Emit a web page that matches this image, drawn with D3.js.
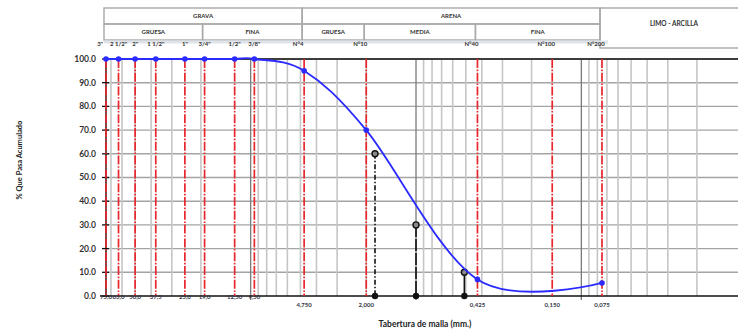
<!DOCTYPE html>
<html>
<head>
<meta charset="utf-8">
<script src="https://cdn.jsdelivr.net/npm/d3@7/dist/d3.min.js"></script>
<style>
  body { margin: 0; background: #fff; }
  text { font-family: Lato, "Open Sans", sans-serif; }
</style>
</head>
<body>
<div id="chart"></div>
<script>
// sieves (ASTM) and their openings in mm
var sieveNames = ['3"', '2 1/2"', '2"', '1 1/2"', '1"', '3/4"', '1/2"', '3/8"', 'N°4', 'N°10', 'N°40', 'N°100', 'N°200'];
var sieveSizes = [75, 63, 50, 37.5, 25, 19, 12.5, 9.5, 4.75, 2.0, 0.425, 0.15, 0.075];
var sizeLabels = ['75,0', '63,0', '50,0', '37,5', '25,0', '19,0', '12,50', '9,50', '4,750', '2,000', '0,425', '0,150', '0,075'];

// granulometric curve (% passing)
var pointSizes = [75, 63, 50, 37.5, 25, 19, 12.5, 9.5, 4.75, 2.0, 0.425, 0.075];
var pointPassing = [100, 100, 100, 100, 100, 100, 100, 100, 95, 70, 7, 5.5];

// D60, D30, D10
var dSizes = [1.77, 1.0, 0.51];
var dPassing = [60, 30, 10];

var yTicks = [0, 10, 20, 30, 40, 50, 60, 70, 80, 90, 100];
var gridMinor = [70, 60, 50, 40, 30, 20, 9, 8, 7, 6, 5, 4, 3, 2, 0.9, 0.8, 0.7, 0.6, 0.5, 0.4, 0.3, 0.2,
                 0.09, 0.08, 0.07, 0.06, 0.05, 0.04, 0.03, 0.02];
var gridDecades = [10, 1, 0.1];

// header classification
var topClasses = ['GRAVA', 'ARENA'];
var topBounds = [[75, 4.75], [4.75, 0.075]];
var subClasses = ['GRUESA', 'FINA', 'GRUESA', 'MEDIA', 'FINA'];
var subBounds = [[75, 19], [19, 4.75], [4.75, 2.0], [2.0, 0.425], [0.425, 0.075]];
var fineClass = 'LIMO - ARCILLA';

var W = 738, H = 334;
var plotRight = 738;

var svg = d3.select("#chart").append("svg")
  .attr("width", W)
  .attr("height", H);

var x = d3.scaleLog().domain([75, 0.075]).range([106, 602]);
var y = d3.scaleLinear().domain([0, 100]).range([296, 59]);
var x0 = x(75);

//Header table
var head = svg.append("g");
var hx = function(v) { return x(v) - 2; };
var hTop = 8, hMid = 24, hBot = 40, hRight = W + 10;

head.selectAll(".topcell")
  .data(topClasses)
  .enter().append("rect")
  .attr("x", function(d, i) { return hx(topBounds[i][0]); })
  .attr("y", hTop)
  .attr("width", function(d, i) { return hx(topBounds[i][1]) - hx(topBounds[i][0]); })
  .attr("height", hMid - hTop)
  .style("fill", "none").style("stroke", "#a8a8a8").style("stroke-width", 1.4);

head.selectAll(".subcell")
  .data(subClasses)
  .enter().append("rect")
  .attr("x", function(d, i) { return hx(subBounds[i][0]); })
  .attr("y", hMid)
  .attr("width", function(d, i) { return hx(subBounds[i][1]) - hx(subBounds[i][0]); })
  .attr("height", hBot - hMid)
  .style("fill", "none").style("stroke", "#a8a8a8").style("stroke-width", 1.4);

head.append("rect")
  .attr("x", hx(0.075)).attr("y", hTop)
  .attr("width", hRight - hx(0.075)).attr("height", hBot - hTop + 8)
  .style("fill", "none").style("stroke", "#a8a8a8").style("stroke-width", 1.4);

head.append("line")
  .attr("x1", hx(75)).attr("x2", x(0.075) + 6)
  .attr("y1", hBot + 2).attr("y2", hBot + 2)
  .style("stroke", "#dfe4ea").style("stroke-width", 3);

head.selectAll(".toptext")
  .data(topClasses)
  .enter().append("text")
  .attr("x", function(d, i) { return (hx(topBounds[i][0]) + hx(topBounds[i][1])) / 2; })
  .attr("y", (hTop + hMid) / 2 + 2)
  .style("text-anchor", "middle").style("font-size", "6px").style("font-weight", "bold").style("fill", "#333")
  .text(function(d) { return d; });

head.selectAll(".subtext")
  .data(subClasses)
  .enter().append("text")
  .attr("x", function(d, i) { return (hx(subBounds[i][0]) + hx(subBounds[i][1])) / 2; })
  .attr("y", (hMid + hBot) / 2 + 2)
  .style("text-anchor", "middle").style("font-size", "6px").style("font-weight", "bold").style("fill", "#333")
  .text(function(d) { return d; });

head.append("text")
  .attr("x", (hx(0.075) + hRight) / 2)
  .attr("y", hMid + 2)
  .style("text-anchor", "middle").style("font-size", "6.5px").style("font-weight", "bold").style("fill", "#333")
  .text(fineClass);

// sieve names
head.selectAll(".sieve")
  .data(sieveNames)
  .enter().append("text")
  .attr("x", function(d, i) { return x(sieveSizes[i]); })
  .attr("dx", function(d, i) { return i === 0 ? -3 : (d.indexOf("N") === 0 ? -6 : 0); })
  .attr("y", 46)
  .style("text-anchor", function(d, i) { return i === 0 ? "end" : "middle"; })
  .style("font-size", "6px").style("font-weight", "bold").style("fill", "#333")
  .text(function(d) { return d; });

//Grid
var grid = svg.append("g");
grid.selectAll(".hgrid")
  .data(yTicks.filter(function(d) { return d > 0 && d < 100; }))
  .enter().append("line")
  .attr("x1", x0).attr("x2", plotRight)
  .attr("y1", function(d) { return y(d); }).attr("y2", function(d) { return y(d); })
  .style("stroke", "#a4a4a4").style("stroke-width", 1.4);

grid.selectAll(".vminor")
  .data(gridMinor)
  .enter().append("line")
  .attr("x1", function(d) { return x(d); }).attr("x2", function(d) { return x(d); })
  .attr("y1", y(100)).attr("y2", y(0))
  .style("stroke", "#c6c6c6").style("stroke-width", 1.6);

grid.selectAll(".vmajor")
  .data(gridDecades)
  .enter().append("line")
  .attr("x1", function(d) { return x(d); }).attr("x2", function(d) { return x(d); })
  .attr("y1", y(100)).attr("y2", y(0) + 4)
  .style("stroke", "#7a7a7a").style("stroke-width", 1.3);

//Axes
svg.append("line")
  .attr("x1", x0 - 6).attr("x2", plotRight)
  .attr("y1", y(0)).attr("y2", y(0))
  .style("stroke", "#111").style("stroke-width", 1.6);
svg.append("line")
  .attr("x1", x0).attr("x2", plotRight)
  .attr("y1", y(100)).attr("y2", y(100))
  .style("stroke", "#3c3c3c").style("stroke-width", 2.2);
svg.append("line")
  .attr("x1", x0).attr("x2", x0)
  .attr("y1", y(0)).attr("y2", y(100))
  .style("stroke", "#111").style("stroke-width", 1.4);

svg.selectAll(".ytick")
  .data(yTicks)
  .enter().append("line")
  .attr("x1", x0 - 4).attr("x2", x0 + 3)
  .attr("y1", function(d) { return y(d); }).attr("y2", function(d) { return y(d); })
  .style("stroke", "#111").style("stroke-width", 1.3);

svg.selectAll(".ylabel")
  .data(yTicks)
  .enter().append("text")
  .attr("x", 96)
  .attr("y", function(d) { return y(d); })
  .attr("dy", ".35em")
  .style("text-anchor", "end").style("font-size", "8.5px").style("font-weight", "bold").style("fill", "#333")
  .text(function(d) { return d3.format(".1f")(d); });

// sieve lines
svg.selectAll(".sieveline")
  .data(sieveSizes)
  .enter().append("line")
  .attr("x1", function(d) { return x(d); }).attr("x2", function(d) { return x(d); })
  .attr("y1", y(100)).attr("y2", y(0))
  .style("stroke", "#e8262c").style("stroke-width", 1.7)
  .style("stroke-dasharray", "9,1.6,1.6,1.6");

svg.selectAll(".sizelabel")
  .data(sizeLabels)
  .enter().append("text")
  .attr("x", function(d, i) { return x(sieveSizes[i]); })
  .attr("y", function(d, i) { return i < 8 ? 299 : 307; })
  .style("text-anchor", "middle").style("font-size", "6px").style("font-weight", "bold").style("fill", "#334")
  .text(function(d) { return d; });

// D60, D30, D10
var dDash = ["5,2,1.5,2", "12,2", "none"];
svg.selectAll(".dline")
  .data(dSizes)
  .enter().append("line")
  .attr("x1", function(d) { return x(d); }).attr("x2", function(d) { return x(d); })
  .attr("y1", function(d, i) { return y(dPassing[i]); }).attr("y2", y(0))
  .style("stroke", "#111").style("stroke-width", 1.6)
  .style("stroke-dasharray", function(d, i) { return dDash[i]; });

svg.selectAll(".dbottom")
  .data(dSizes)
  .enter().append("circle")
  .attr("cx", function(d) { return x(d); }).attr("cy", y(0))
  .attr("r", 3.2)
  .style("fill", "#111");

svg.selectAll(".dtop")
  .data(dSizes)
  .enter().append("circle")
  .attr("cx", function(d) { return x(d); })
  .attr("cy", function(d, i) { return y(dPassing[i]); })
  .attr("r", 3)
  .style("fill", "#8a8a8a").style("stroke", "#111").style("stroke-width", 1.4);

// curve
var pts = pointSizes.map(function(s, i) { return [s, pointPassing[i]]; });
var line = d3.line()
  .x(function(d) { return x(d[0]); })
  .y(function(d) { return y(d[1]); })
  .curve(d3.curveCardinal.tension(0));

svg.append("path")
  .datum(pts)
  .attr("d", line)
  .style("fill", "none").style("stroke", "#2b2bff").style("stroke-width", 1.8);

svg.selectAll(".pt")
  .data(pts)
  .enter().append("circle")
  .attr("cx", function(d) { return x(d[0]); })
  .attr("cy", function(d) { return y(d[1]); })
  .attr("r", 2.8)
  .style("fill", "#2b2bff");

// titles
svg.append("text")
  .attr("x", 425).attr("y", 327)
  .style("text-anchor", "middle").style("font-size", "8.5px").style("font-weight", "bold").style("fill", "#222")
  .text("Tabertura de malla (mm.)");

svg.append("text")
  .attr("transform", "translate(22,160) rotate(-90)")
  .style("text-anchor", "middle").style("font-size", "7.5px").style("font-weight", "bold").style("fill", "#222")
  .text("% Que Pasa Acumulado");
</script>
</body>
</html>
